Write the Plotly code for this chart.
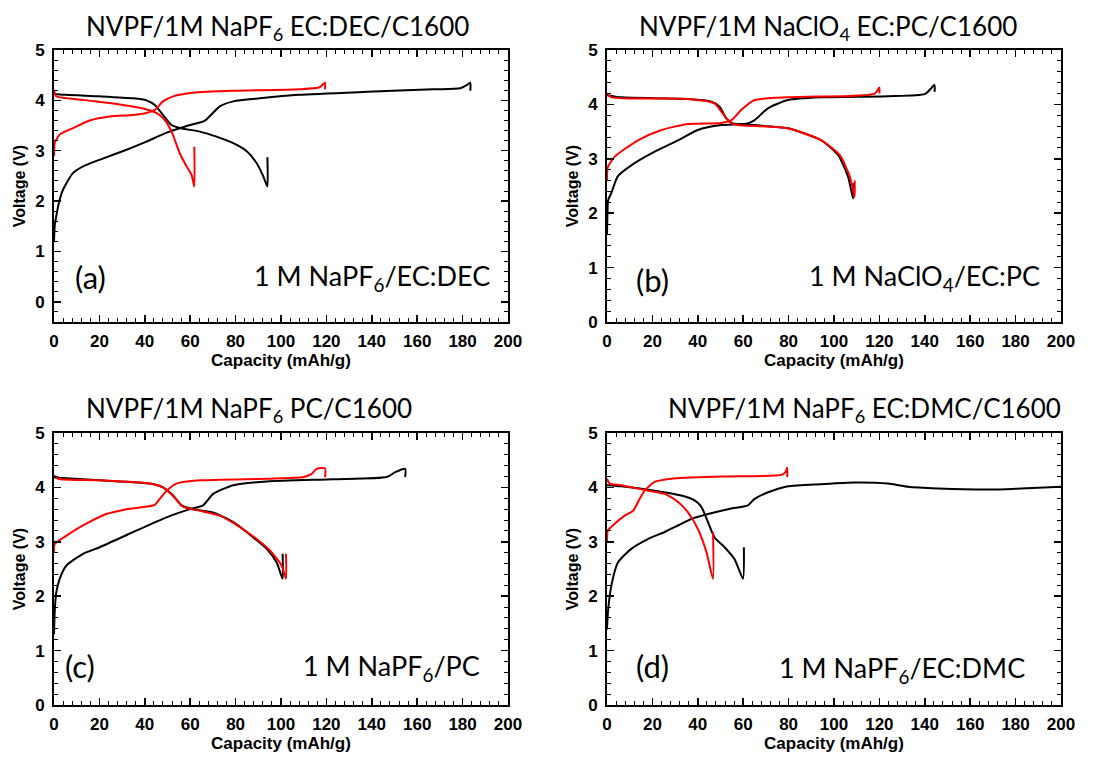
import plotly.graph_objects as go

# ---------------- DATA ----------------
# Panel (a) 1M NaPF6 EC:DEC
a_blk_chg_x = [0, 0.3, 1, 2.5, 4, 8.4, 12.8, 20, 32, 40.7, 49.6, 58.4, 66.5, 70, 73, 79, 90.7, 108, 138, 167, 179, 182, 183.4, 183.4]
a_blk_chg_v = [1.2, 1.5, 1.7, 2.03, 2.23, 2.56, 2.69, 2.82, 3.02, 3.18, 3.36, 3.49, 3.6, 3.75, 3.88, 3.98, 4.04, 4.11, 4.17, 4.22, 4.24, 4.31, 4.35, 4.19]
a_blk_dis_x = [0, 0.3, 5.4, 20, 35, 40.7, 44.4, 48, 51.8, 55.4, 64.3, 71.6, 79, 84.9, 89.3, 92.2, 94, 94]
a_blk_dis_v = [4.16, 4.13, 4.11, 4.08, 4.04, 4.0, 3.91, 3.71, 3.51, 3.45, 3.38, 3.28, 3.15, 2.99, 2.75, 2.49, 2.29, 2.87]
a_red_chg_x = [0, 0.1, 0.3, 2.5, 8.4, 15.7, 24.6, 34.9, 40.7, 44.4, 48, 52.5, 61.3, 79, 108, 117, 119.4, 119.4]
a_red_chg_v = [2.89, 3.0, 3.15, 3.32, 3.45, 3.6, 3.68, 3.71, 3.75, 3.81, 3.98, 4.08, 4.15, 4.19, 4.22, 4.26, 4.35, 4.22]
a_red_dis_x = [0, 1, 12.8, 27.5, 39.3, 45.1, 48.8, 51.8, 55.4, 58.4, 60.6, 61.8, 61.8]
a_red_dis_v = [4.21, 4.08, 4.01, 3.93, 3.84, 3.75, 3.61, 3.38, 2.95, 2.69, 2.52, 2.29, 3.08]

# Panel (b) 1M NaClO4 EC:PC
b_blk_chg_x = [0, 0.2, 0.5, 1.9, 4.8, 10.7, 21, 31.3, 40, 50.4, 62, 65, 71, 79.7, 94.4, 124, 140, 142, 144.3, 144.3]
b_blk_chg_v = [1.6, 2.0, 2.24, 2.37, 2.68, 2.88, 3.13, 3.34, 3.53, 3.62, 3.65, 3.71, 3.93, 4.08, 4.13, 4.15, 4.19, 4.26, 4.36, 4.23]
b_blk_dis_x = [0, 6.3, 35.7, 46, 49.6, 52.6, 55.5, 65, 79.7, 94.4, 101.8, 106.2, 108.4, 108.4]
b_blk_dis_v = [4.17, 4.13, 4.1, 4.05, 3.96, 3.74, 3.65, 3.62, 3.56, 3.34, 3.07, 2.67, 2.27, 2.55]
b_red_chg_x = [0, 0.4, 3.4, 13.7, 24, 35.7, 50.4, 54.8, 59.2, 65, 79.7, 109, 118, 120, 120]
b_red_chg_v = [2.61, 2.85, 3.04, 3.34, 3.53, 3.64, 3.66, 3.71, 3.9, 4.08, 4.13, 4.16, 4.2, 4.31, 4.2]
b_red_dis_x = [0, 1.9, 35.7, 47.4, 51, 54.8, 57.7, 79.7, 94.4, 102.5, 107, 109.1, 109.1]
b_red_dis_v = [4.2, 4.13, 4.1, 4.02, 3.83, 3.65, 3.62, 3.56, 3.34, 3.07, 2.67, 2.3, 2.6]

# Panel (c) 1M NaPF6 PC
c_blk_chg_x = [0, 0.3, 1, 2.5, 5.4, 12.8, 20.1, 34.9, 49.6, 59.9, 65.7, 70.1, 79, 93.7, 123, 146.6, 150.3, 154.7, 154.7]
c_blk_chg_v = [1.3, 1.7, 2.07, 2.32, 2.56, 2.78, 2.9, 3.18, 3.45, 3.6, 3.67, 3.88, 4.04, 4.11, 4.15, 4.19, 4.28, 4.34, 4.19]
c_blk_dis_x = [0, 20, 42.2, 48, 52.5, 56.2, 61.3, 70.1, 79, 87.8, 93.7, 98.1, 100.7, 100.7]
c_blk_dis_v = [4.18, 4.13, 4.07, 4.0, 3.85, 3.67, 3.6, 3.54, 3.36, 3.08, 2.87, 2.62, 2.32, 2.78]
c_red_chg_x = [0, 0.3, 5.4, 12.8, 23, 31.9, 44.4, 46.6, 49.6, 54, 64.3, 93.7, 110, 113.5, 115.7, 119.4, 119.4]
c_red_chg_v = [2.81, 2.96, 3.11, 3.3, 3.51, 3.6, 3.68, 3.79, 3.94, 4.07, 4.13, 4.16, 4.19, 4.25, 4.34, 4.35, 4.19]
c_red_dis_x = [0, 1.8, 20, 42.2, 48, 52.5, 57, 64.3, 73, 81.9, 89.3, 95.1, 100.3, 102.2, 102.2]
c_red_dis_v = [4.22, 4.16, 4.13, 4.07, 4.0, 3.84, 3.64, 3.57, 3.48, 3.27, 3.05, 2.84, 2.56, 2.32, 2.78]

# Panel (d) 1M NaPF6 EC:DMC
d_blk_chg_x = [0, 0.4, 1.9, 4.8, 10.7, 18, 25.4, 31.3, 37.2, 44.5, 53.3, 62.1, 65, 71, 79.7, 94.4, 109, 123.8, 132.6, 145.8, 167.8, 182.5, 200]
d_blk_chg_v = [1.39, 1.7, 2.19, 2.62, 2.87, 3.05, 3.18, 3.3, 3.42, 3.51, 3.6, 3.67, 3.79, 3.91, 4.02, 4.06, 4.09, 4.07, 4.01, 3.98, 3.96, 3.98, 4.01]
d_blk_dis_x = [0, 6.3, 21, 32.7, 38.6, 41.6, 44.5, 47.4, 51.8, 56.2, 59.9, 60.3]
d_blk_dis_v = [4.04, 4.02, 3.94, 3.85, 3.76, 3.64, 3.36, 3.08, 2.9, 2.68, 2.32, 2.9]
d_red_chg_x = [0, 0.4, 3.4, 7.8, 11.5, 14.4, 16.6, 21, 28.3, 50.4, 76.8, 78.6, 79.4, 79.4]
d_red_chg_v = [2.99, 3.21, 3.33, 3.48, 3.57, 3.79, 3.94, 4.1, 4.16, 4.2, 4.23, 4.28, 4.36, 4.19]
d_red_dis_x = [0, 1.2, 6.3, 18, 25.4, 31.3, 35.7, 40.1, 43.8, 46.7, 46.7]
d_red_dis_v = [4.16, 4.07, 4.04, 3.94, 3.88, 3.73, 3.54, 3.23, 2.81, 2.32, 3.18]

titles = ["NVPF/1M NaPF<sub>6</sub> EC:DEC/C1600",
          "NVPF/1M NaClO<sub>4</sub> EC:PC/C1600",
          "NVPF/1M NaPF<sub>6</sub> PC/C1600",
          "NVPF/1M NaPF<sub>6</sub> EC:DMC/C1600"]
letters = ["(a)", "(b)", "(c)", "(d)"]
labels = ["1 M NaPF<sub>6</sub>/EC:DEC", "1 M NaClO<sub>4</sub>/EC:PC",
          "1 M NaPF<sub>6</sub>/PC", "1 M NaPF<sub>6</sub>/EC:DMC"]
x_ticks = [0, 20, 40, 60, 80, 100, 120, 140, 160, 180, 200]
y_ticks = [0, 1, 2, 3, 4, 5]
x_title = "Capacity (mAh/g)"
y_title = "Voltage (V)"

panels = [
    [(a_blk_chg_x, a_blk_chg_v, "black"), (a_blk_dis_x, a_blk_dis_v, "black"),
     (a_red_chg_x, a_red_chg_v, "red"), (a_red_dis_x, a_red_dis_v, "red")],
    [(b_blk_chg_x, b_blk_chg_v, "black"), (b_blk_dis_x, b_blk_dis_v, "black"),
     (b_red_chg_x, b_red_chg_v, "red"), (b_red_dis_x, b_red_dis_v, "red")],
    [(c_blk_chg_x, c_blk_chg_v, "black"), (c_blk_dis_x, c_blk_dis_v, "black"),
     (c_red_chg_x, c_red_chg_v, "red"), (c_red_dis_x, c_red_dis_v, "red")],
    [(d_blk_chg_x, d_blk_chg_v, "black"), (d_blk_dis_x, d_blk_dis_v, "black"),
     (d_red_chg_x, d_red_chg_v, "red"), (d_red_dis_x, d_red_dis_v, "red")],
]

W, H = 1109, 758
# plot-area pixel boxes (left, right, top, bottom)
boxes = [(54, 508, 50, 322), (607, 1061, 50, 322), (54, 508, 433, 705), (607, 1061, 433, 705)]
y_ranges = [[-0.4, 5], [0, 5], [0, 5], [0, 5]]
title_pos = [(277, 27), (828, 27), (249, 409), (864, 409)]
letter_pos = [(90, 277), (652, 280), (80, 666), (652, 666)]
label_right = [(492, 277), (1042, 277), (482, 667), (1027, 669)]

fig = go.Figure()
TFONT = "Lato, Open Sans, sans-serif"
AFONT = "Liberation Sans, Arial, sans-serif"

for i, traces in enumerate(panels):
    n = "" if i == 0 else str(i + 1)
    for xs, vs, col in traces:
        fig.add_trace(go.Scatter(x=xs, y=vs, mode="lines",
                                 line=dict(color=col, width=2, shape="spline", smoothing=0.6),
                                 xaxis="x" + n, yaxis="y" + n, showlegend=False,
                                 cliponaxis=True))
    l, r, t, b = boxes[i]
    ax = dict(domain=[l / W, r / W], anchor="y" + n, range=[0, 200], automargin=False,
              tickvals=x_ticks, ticktext=["<b>%d</b>" % v for v in x_ticks],
              ticks="inside", ticklen=7, tickwidth=1.5, tickcolor="black",
              ticklabelstandoff=3,
              showline=True, linewidth=2, linecolor="black", mirror="ticks",
              showgrid=False, zeroline=False,
              tickfont=dict(family=AFONT, size=17, color="black"),
              title=dict(text="<b>%s</b>" % x_title, standoff=4,
                         font=dict(family=AFONT, size=17, color="black")),
              minor=dict(dtick=4, ticks="inside", ticklen=4, tickwidth=1, tickcolor="black"))
    ay = dict(domain=[1 - b / H, 1 - t / H], anchor="x" + n, range=y_ranges[i], automargin=False,
              tickvals=y_ticks, ticktext=["<b>%d</b>" % v for v in y_ticks],
              ticks="inside", ticklen=7, tickwidth=1.5, tickcolor="black",
              ticklabelstandoff=4,
              showline=True, linewidth=2, linecolor="black", mirror="ticks",
              showgrid=False, zeroline=False,
              tickfont=dict(family=AFONT, size=17, color="black"),
              title=dict(text="<b>%s</b>" % y_title, standoff=6,
                         font=dict(family=AFONT, size=16, color="black")),
              minor=dict(dtick=0.2, tick0=0, ticks="inside", ticklen=4, tickwidth=1, tickcolor="black"))
    fig.update_layout(**{"xaxis" + n: ax, "yaxis" + n: ay})

    tx, ty = title_pos[i]
    fig.add_annotation(x=tx / W, y=1 - ty / H, xref="paper", yref="paper",
                       text=titles[i], showarrow=False, xanchor="center", yanchor="middle",
                       font=dict(family=TFONT, size=26, color="black"))
    lx, ly = letter_pos[i]
    fig.add_annotation(x=lx / W, y=1 - ly / H, xref="paper", yref="paper",
                       text=letters[i], showarrow=False, xanchor="center", yanchor="middle",
                       font=dict(family=TFONT, size=31, color="black"))
    rx, ry = label_right[i]
    fig.add_annotation(x=rx / W, y=1 - ry / H, xref="paper", yref="paper",
                       text=labels[i], showarrow=False, xanchor="right", yanchor="middle",
                       font=dict(family=TFONT, size=27, color="black"))

fig.update_layout(width=W, height=H, margin=dict(l=0, r=0, t=0, b=0),
                  paper_bgcolor="white", plot_bgcolor="white", hovermode=False)
fig.write_html("out.html", config={"displayModeBar": False, "staticPlot": True},
               post_script="document.body.style.margin='0px';document.body.style.padding='0px';"
                           "document.body.style.overflow='hidden';")
